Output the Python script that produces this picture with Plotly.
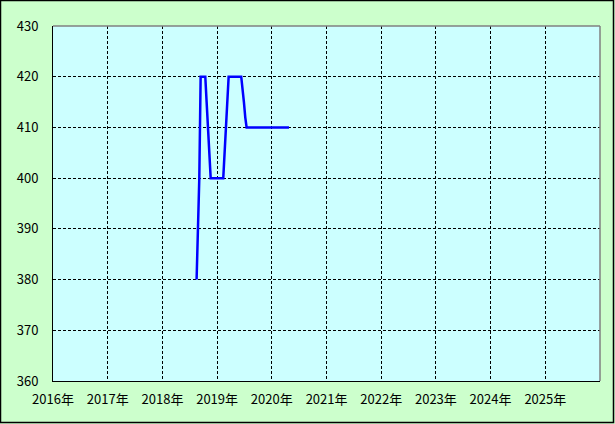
import plotly.graph_objects as go

# Data
dates = [
    "2018-08-17", "2018-08-26", "2018-09-04", "2018-09-13",
    "2018-10-14", "2018-10-23", "2018-11-01", "2018-11-10", "2018-11-19",
    "2019-02-11", "2019-02-20", "2019-03-01", "2019-03-10", "2019-03-19",
    "2019-06-11", "2019-06-20", "2019-06-29", "2019-07-08", "2019-07-17",
    "2020-04-25",
]
values = [
    380, 390, 400, 420,
    420, 415, 410, 405, 400,
    400, 405, 410, 415, 420,
    420, 418, 415, 412, 410,
    410,
]
years = list(range(2016, 2026))
year_ticks = [f"{y}-01-01" for y in years]
year_labels = [f"{y}年" for y in years]
y_ticks = [360, 370, 380, 390, 400, 410, 420, 430]

W, H = 615, 424
ML, MR, MT, MB = 53, 15, 26, 43
PW = W - ML - MR
PH = H - MT - MB

def px_x(x):
    return (x - ML) / PW

def px_y(y):
    return (H - MB - y) / PH

font = dict(family="Noto Sans CJK JP, Noto Sans, sans-serif", size=13, color="black")

fig = go.Figure()
fig.add_trace(go.Scatter(
    x=dates, y=values, mode="lines",
    line=dict(color="#0000ff", width=2.5),
    hoverinfo="skip", showlegend=False,
))

fig.update_layout(
    width=W, height=H,
    margin=dict(l=ML, r=MR, t=MT, b=MB, pad=0, autoexpand=False),
    paper_bgcolor="#ccffcc",
    plot_bgcolor="#ccffff",
    font=font,
    showlegend=False,
    hovermode=False,
    xaxis=dict(
        type="date",
        range=["2016-01-01", "2026-01-01"],
        tickmode="array", tickvals=year_ticks, ticktext=year_labels,
        showgrid=True, gridcolor="black", gridwidth=1, griddash="3px,2px",
        showline=True, linecolor="black", linewidth=1,
        zeroline=False, ticks="", ticklabelstandoff=6, automargin=False,
        tickfont=font, fixedrange=True,
    ),
    yaxis=dict(
        range=[360, 430],
        tickmode="array", tickvals=y_ticks,
        ticktext=[str(v) for v in y_ticks],
        showgrid=True, gridcolor="black", gridwidth=1, griddash="3px,2px",
        showline=True, linecolor="black", linewidth=1,
        zeroline=False, ticks="", ticklabelstandoff=11, automargin=False,
        tickfont=font, fixedrange=True,
    ),
    shapes=[
        # top and right plot borders in grey
        dict(type="line", xref="paper", yref="paper", x0=0, x1=1, y0=1, y1=1,
             line=dict(color="#808080", width=1.5), layer="above"),
        dict(type="line", xref="paper", yref="paper", x0=1, x1=1, y0=0, y1=1,
             line=dict(color="#808080", width=1.5), layer="above"),
        # outer figure frame
        dict(type="rect", xref="paper", yref="paper",
             x0=px_x(0.5), x1=px_x(W - 1.5), y0=px_y(H - 1.5), y1=px_y(0.5),
             line=dict(color="black", width=1.5), fillcolor="rgba(0,0,0,0)",
             layer="above"),
    ],
)

fig.write_html(
    "out.html",
    config={"displayModeBar": False, "staticPlot": True},
    post_script="document.body.style.margin='0';document.body.style.padding='0';",
)
